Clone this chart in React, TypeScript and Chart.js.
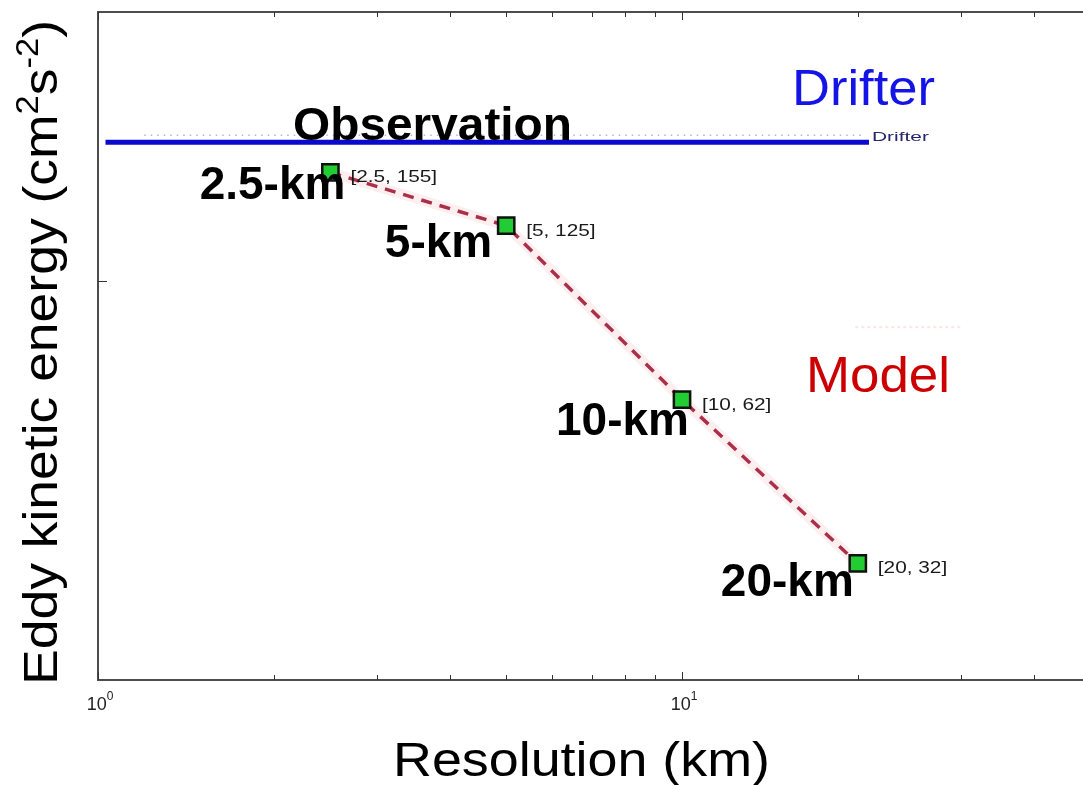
import React, { useEffect, useRef } from "react";
import { Chart, registerables } from "chart.js";

Chart.register(...registerables);

// ---- data ----
const resolutionKm = [2.5, 5, 10, 20];
const modelEke = [155, 125, 62, 32];
const pointTags = ["[2.5, 155]", "[5, 125]", "[10, 62]", "[20, 32]"];
const resolutionNames = ["2.5-km", "5-km", "10-km", "20-km"];
const drifterX = [1.03, 20.9];
const drifterEke = 175;
const obsDotX = [1.2, 20.4];
const obsDotEke = 180;
const modelLegendX = [19.8, 30];
const modelLegendEke = 83;
const xMajorTicks = [1, 10];
const xMajorExponents = ["0", "1"];
const xMinorTicks = [2, 3, 4, 5, 6, 7, 8, 9, 20, 30, 40];
const yMajorTicks = [100];
const xRange = [1, 48.6];
const yRange = [20, 296];

const FONT = '"Liberation Sans", Arial, Helvetica, sans-serif';

type Seg = { t: string; font: string; dy?: number };

function drawSegs(
  ctx: CanvasRenderingContext2D,
  segs: Seg[],
  x: number,
  y: number,
  opts: { width?: number; scaleX?: number; align: "left" | "right" | "center"; color: string; rotate?: number }
) {
  let total = 0;
  const ws = segs.map((s) => {
    ctx.font = s.font;
    const w = ctx.measureText(s.t).width;
    total += w;
    return w;
  });
  const sx = opts.width ? opts.width / total : opts.scaleX ?? 1;
  ctx.save();
  ctx.translate(x, y);
  if (opts.rotate) ctx.rotate(opts.rotate);
  ctx.scale(sx, 1);
  let cx = opts.align === "left" ? 0 : opts.align === "right" ? -total : -total / 2;
  ctx.fillStyle = opts.color;
  ctx.textBaseline = "alphabetic";
  ctx.textAlign = "left";
  segs.forEach((s, i) => {
    ctx.font = s.font;
    ctx.fillText(s.t, cx, s.dy ?? 0);
    cx += ws[i];
  });
  ctx.restore();
}

const nameOffsets = [
  [15, 27],
  [-14, 31],
  [7, 35],
  [-4, 33],
];

const decorPlugin = {
  id: "decor",
  afterDraw(chart: any) {
    const { ctx, chartArea, scales } = chart;
    const { left, top, right, bottom } = chartArea;
    const x = scales.x;
    const y = scales.y;
    ctx.save();

    // axes box (left, top, bottom)
    ctx.strokeStyle = "#4d4d4d";
    ctx.lineWidth = 2;
    ctx.beginPath();
    ctx.moveTo(right + 5, top);
    ctx.lineTo(left, top);
    ctx.lineTo(left, bottom);
    ctx.lineTo(right + 5, bottom);
    ctx.stroke();

    // ticks
    ctx.strokeStyle = "#333";
    ctx.lineWidth = 1;
    ctx.beginPath();
    xMinorTicks.forEach((v) => {
      const px = Math.round(x.getPixelForValue(v)) + 0.5;
      ctx.moveTo(px, bottom);
      ctx.lineTo(px, bottom - 5);
      ctx.moveTo(px, top);
      ctx.lineTo(px, top + 5);
    });
    xMajorTicks.forEach((v) => {
      const px = Math.round(x.getPixelForValue(v)) + 0.5;
      ctx.moveTo(px, bottom);
      ctx.lineTo(px, bottom - 8);
      ctx.moveTo(px, top);
      ctx.lineTo(px, top + 8);
    });
    yMajorTicks.forEach((v) => {
      const py = Math.round(y.getPixelForValue(v)) + 0.5;
      ctx.moveTo(left, py);
      ctx.lineTo(left + 9, py);
    });
    ctx.stroke();

    // x tick labels
    xMajorTicks.forEach((v, i) => {
      const px = x.getPixelForValue(v);
      drawSegs(
        ctx,
        [
          { t: "10", font: `18px ${FONT}` },
          { t: xMajorExponents[i], font: `12px ${FONT}`, dy: -10 },
        ],
        px + 2,
        bottom + 30,
        { align: "center", color: "#222" }
      );
    });

    // model point tags and resolution names
    resolutionKm.forEach((r, i) => {
      const px = x.getPixelForValue(r);
      const py = y.getPixelForValue(modelEke[i]);
      drawSegs(ctx, [{ t: pointTags[i], font: `16px ${FONT}` }], px + 20, py + 10, {
        align: "left",
        color: "#1a1a1a",
        scaleX: 1.3,
      });
      drawSegs(
        ctx,
        [{ t: resolutionNames[i], font: `bold 46px ${FONT}` }],
        px + nameOffsets[i][0],
        py + nameOffsets[i][1],
        { align: "right", color: "#000" }
      );
    });

    // Observation
    drawSegs(ctx, [{ t: "Observation", font: `bold 46px ${FONT}` }], 293, 140, {
      align: "left",
      color: "#000",
      width: 279,
    });

    // small Drifter tag
    const dEnd = x.getPixelForValue(drifterX[1]);
    const dY = y.getPixelForValue(drifterEke);
    drawSegs(ctx, [{ t: "Drifter", font: `13px ${FONT}` }], dEnd + 3, dY - 1, {
      align: "left",
      color: "#25256e",
      width: 57,
    });

    // big Drifter / Model
    drawSegs(ctx, [{ t: "Drifter", font: `50px ${FONT}` }], 792, 105, {
      align: "left",
      color: "#1414e6",
      width: 143,
    });
    drawSegs(ctx, [{ t: "Model", font: `50px ${FONT}` }], 806, 392, {
      align: "left",
      color: "#cc0000",
      width: 144,
    });

    // axis titles
    drawSegs(ctx, [{ t: "Resolution (km)", font: `48px ${FONT}` }], 393, 776, {
      align: "left",
      color: "#000",
      width: 377,
    });
    drawSegs(
      ctx,
      [
        { t: "Eddy kinetic energy (cm", font: `48px ${FONT}` },
        { t: "2", font: `31px ${FONT}`, dy: -19 },
        { t: "s", font: `48px ${FONT}` },
        { t: "-2", font: `31px ${FONT}`, dy: -19 },
        { t: ")", font: `48px ${FONT}` },
      ],
      57,
      685,
      { align: "left", color: "#000", width: 665, rotate: -Math.PI / 2 }
    );

    ctx.restore();
  },
};

export default function App() {
  const canvasRef = useRef<HTMLCanvasElement | null>(null);

  useEffect(() => {
    const canvas = canvasRef.current;
    if (!canvas) return;
    const modelPts = resolutionKm.map((r, i) => ({ x: r, y: modelEke[i] }));
    const chart = new Chart(canvas, {
      type: "line",
      data: {
        datasets: [
          {
            label: "Model",
            data: modelPts,
            borderColor: "#aa2f48",
            borderWidth: 3.5,
            borderDash: [11, 8],
            pointStyle: "rect",
            pointRadius: 11.5,
            pointBackgroundColor: "#22cc33",
            pointBorderColor: "#111",
            pointBorderWidth: 2.5,
            fill: false,
            tension: 0,
          },
          {
            label: "Model halo",
            data: modelPts,
            borderColor: "rgba(240,120,140,0.13)",
            borderWidth: 10,
            pointRadius: 0,
            fill: false,
          },
          {
            label: "Drifter",
            data: drifterX.map((v) => ({ x: v, y: drifterEke })),
            borderColor: "#0a0acc",
            borderWidth: 5,
            pointRadius: 0,
            fill: false,
          },
          {
            label: "Observation dots",
            data: obsDotX.map((v) => ({ x: v, y: obsDotEke })),
            borderColor: "#b8b8b8",
            borderWidth: 1.5,
            borderDash: [1.5, 5],
            pointRadius: 0,
            fill: false,
          },
          {
            label: "Model legend",
            data: modelLegendX.map((v) => ({ x: v, y: modelLegendEke })),
            borderColor: "rgba(230,150,150,0.25)",
            borderWidth: 2,
            borderDash: [3, 3],
            pointRadius: 0,
            fill: false,
          },
        ],
      },
      options: {
        animation: false,
        responsive: false,
        maintainAspectRatio: false,
        layout: { autoPadding: false, padding: { left: 98, top: 12, right: 0, bottom: 105 } },
        plugins: { legend: { display: false }, tooltip: { enabled: false } },
        scales: {
          x: { type: "logarithmic", min: xRange[0], max: xRange[1], display: false },
          y: { type: "logarithmic", min: yRange[0], max: yRange[1], display: false },
        },
      },
      plugins: [decorPlugin],
    });
    return () => chart.destroy();
  }, []);

  return (
    <div style={{ position: "fixed", left: 0, top: 0, width: 1083, height: 785, background: "#fff" }}>
      <canvas ref={canvasRef} width={1083} height={785} style={{ display: "block" }} />
    </div>
  );
}
